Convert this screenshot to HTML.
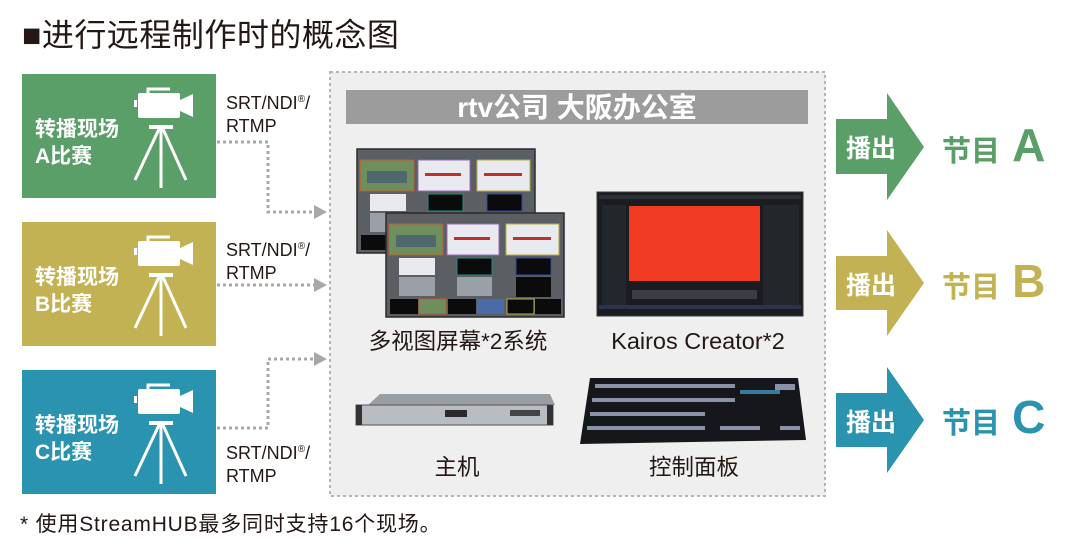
<!DOCTYPE html>
<html><head><meta charset="utf-8"><style>
html,body{margin:0;padding:0;background:#fff;}
body{width:1080px;height:551px;overflow:hidden;position:relative;font-family:"Liberation Sans","Noto Sans CJK SC",sans-serif;}
</style></head><body>
<svg width="1080" height="551" viewBox="0 0 1080 551" xmlns="http://www.w3.org/2000/svg" style="position:absolute;left:0;top:0">
<defs>
<g id="cam" fill="#fff">
  <rect x="138" y="93" width="42" height="25" rx="2"/>
  <polygon points="180,100 193,94 193,117 180,111"/>
  <rect x="134" y="100" width="3" height="7"/>
  <path d="M148 93 V89 H170" stroke="#fff" stroke-width="3" fill="none"/>
  <rect x="149" y="125" width="24" height="4"/>
  <path d="M161 128 V188 M159 129 L135 180 M163 129 L186 180" stroke="#fff" stroke-width="3" fill="none"/>
</g>
<g id="mv">
  <rect x="0" y="0" width="178" height="104" fill="#5b5e63" stroke="#2b2b2b" stroke-width="1.5"/>
  <rect x="3" y="11" width="54" height="31" fill="#6d8f5e" stroke="#c25a30"/>
  <rect x="10" y="22" width="40" height="12" fill="#3a4f7a" opacity=".6"/>
  <rect x="61" y="11" width="52" height="31" fill="#e8eaf0" stroke="#9a6bb0"/>
  <rect x="68" y="24" width="36" height="3" fill="#c0302a"/>
  <rect x="120" y="11" width="53" height="31" fill="#e8eaf0" stroke="#b6b040"/>
  <rect x="127" y="24" width="38" height="3" fill="#c0302a"/>
  <rect x="13" y="45" width="36" height="17" fill="#e8eaf0"/>
  <rect x="71" y="45" width="35" height="17" fill="#0b0b0b" stroke="#2a8a80"/>
  <rect x="130" y="45" width="35" height="17" fill="#0b0b0b" stroke="#304aa0"/>
  <rect x="13" y="64" width="36" height="19" fill="#9aa0a8"/>
  <rect x="71" y="64" width="35" height="19" fill="#9aa0a8"/>
  <rect x="130" y="64" width="35" height="20" fill="#0b0b0b"/>
  <rect x="4" y="86" width="28" height="15" fill="#0b0b0b"/>
  <rect x="33" y="86" width="27" height="15" fill="#6d8f5e" stroke="#c25a30"/>
  <rect x="62" y="86" width="28" height="15" fill="#0b0b0b"/>
  <rect x="91" y="86" width="27" height="15" fill="#4a6aa8"/>
  <rect x="121" y="86" width="27" height="15" fill="#0b0b0b" stroke="#b6b040"/>
  <rect x="149" y="86" width="26" height="15" fill="#0b0b0b"/>
</g>
</defs>

<!-- title -->
<text x="22" y="46" font-size="32" letter-spacing="0.5" fill="#231815" font-family="'Liberation Sans','Noto Sans CJK SC',sans-serif">■进行远程制作时的概念图</text>

<!-- center container -->
<rect x="330" y="72" width="495" height="424" fill="#efefef" stroke="#b5b5b5" stroke-width="2" stroke-dasharray="3,3"/>
<rect x="346" y="90" width="462" height="34" fill="#9c9c9c"/>
<text x="577" y="117" font-size="28" font-weight="bold" fill="#fff" text-anchor="middle" font-family="'Liberation Sans','Noto Sans CJK SC',sans-serif">rtv公司 大阪办公室</text>

<!-- multiview -->
<use href="#mv" transform="translate(357,149)"/>
<use href="#mv" transform="translate(386,213)"/>
<text x="458" y="349" font-size="22.5" fill="#231815" text-anchor="middle" font-family="'Liberation Sans','Noto Sans CJK SC',sans-serif">多视图屏幕*2系统</text>

<!-- kairos monitor -->
<rect x="597" y="192" width="206" height="124" fill="#1a1c20" stroke="#3a3a3a"/>
<rect x="599" y="195" width="202" height="4" fill="#2d3036"/>
<rect x="629" y="206" width="131" height="75" fill="#f03a22"/>
<rect x="602" y="205" width="24" height="100" fill="#23262b"/>
<rect x="763" y="205" width="36" height="100" fill="#23262b"/>
<rect x="632" y="290" width="125" height="9" fill="#3a3e44"/>
<rect x="599" y="305" width="202" height="4" fill="#2a3350"/>
<text x="698" y="349" font-size="23.5" fill="#231815" text-anchor="middle" font-family="'Liberation Sans','Noto Sans CJK SC',sans-serif">Kairos Creator*2</text>

<!-- server -->
<polygon points="368,405 380,394 550,394 555,405" fill="#9a9da2"/>
<rect x="356" y="405" width="197" height="20" fill="#b9bcc0" stroke="#555" stroke-width="1"/>
<rect x="356" y="405" width="6" height="20" fill="#333"/>
<rect x="547" y="405" width="6" height="20" fill="#333"/>
<rect x="445" y="410" width="22" height="7" fill="#2a2a2a"/>
<rect x="510" y="410" width="30" height="6" fill="#444"/>
<text x="457" y="475" font-size="22.5" fill="#231815" text-anchor="middle" font-family="'Liberation Sans','Noto Sans CJK SC',sans-serif">主机</text>

<!-- control panel -->
<polygon points="590,378 798,378 806,440 580,444" fill="#16171a"/>
<g fill="#8a92a8">
<rect x="595" y="384" width="110" height="4"/><rect x="592" y="398" width="113" height="4"/>
<rect x="590" y="412" width="115" height="4"/><rect x="587" y="426" width="118" height="4"/>
<rect x="705" y="384" width="30" height="4"/><rect x="705" y="398" width="30" height="4"/>
<rect x="720" y="426" width="40" height="4"/><rect x="775" y="384" width="20" height="6"/>
<rect x="780" y="426" width="20" height="4"/>
</g>
<rect x="740" y="390" width="40" height="4" fill="#3a7aa0"/>
<text x="694" y="475" font-size="22.5" fill="#231815" text-anchor="middle" font-family="'Liberation Sans','Noto Sans CJK SC',sans-serif">控制面板</text>

<!-- source boxes -->
<rect x="22" y="74" width="194" height="124" fill="#5a9e68"/>
<rect x="22" y="222" width="194" height="124" fill="#c3b253"/>
<rect x="22" y="370" width="194" height="124" fill="#2a93af"/>
<use href="#cam"/>
<use href="#cam" transform="translate(0,148)"/>
<use href="#cam" transform="translate(0,296)"/>
<g font-size="21" font-weight="bold" fill="#fff" font-family="'Liberation Sans','Noto Sans CJK SC',sans-serif">
<text x="35" y="136">转播现场</text><text x="35" y="163">A比赛</text>
<text x="35" y="284">转播现场</text><text x="35" y="311">B比赛</text>
<text x="35" y="432">转播现场</text><text x="35" y="459">C比赛</text>
</g>

<!-- protocol labels -->
<g font-size="18" fill="#231815" font-family="'Liberation Sans','Noto Sans CJK SC',sans-serif">
<text x="226" y="109">SRT/NDI<tspan font-size="10" dy="-7">®</tspan><tspan dy="7">/</tspan></text>
<text x="226" y="132">RTMP</text>
<text x="226" y="256">SRT/NDI<tspan font-size="10" dy="-7">®</tspan><tspan dy="7">/</tspan></text>
<text x="226" y="279">RTMP</text>
<text x="226" y="459">SRT/NDI<tspan font-size="10" dy="-7">®</tspan><tspan dy="7">/</tspan></text>
<text x="226" y="482">RTMP</text>
</g>

<!-- connectors -->
<g stroke="#a8a8a8" stroke-width="3" stroke-dasharray="3,3" fill="none">
<path d="M217 142 H268 V212 H316"/>
<path d="M217 285 H316"/>
<path d="M217 428 H268 V359 H316"/>
</g>
<g fill="#a8a8a8">
<polygon points="314,205 327,212 314,219"/>
<polygon points="314,278 327,285 314,292"/>
<polygon points="314,352 327,359 314,366"/>
</g>

<!-- output arrows -->
<polygon points="836,119 887,119 887,93 924,147 887,200 887,174 836,174" fill="#5a9e68"/>
<polygon points="836,256 887,256 887,230 924,283 887,336 887,310 836,310" fill="#c3b253"/>
<polygon points="836,393 887,393 887,367 924,420 887,473 887,447 836,447" fill="#2a93af"/>
<g font-size="25" font-weight="bold" fill="#fff" font-family="'Liberation Sans','Noto Sans CJK SC',sans-serif">
<text x="846" y="157">播出</text>
<text x="846" y="294">播出</text>
<text x="846" y="431">播出</text>
</g>
<g font-weight="bold" font-family="'Liberation Sans','Noto Sans CJK SC',sans-serif">
<text x="942" y="161" font-size="29" fill="#5a9e68">节目 <tspan font-size="46" dx="4">A</tspan></text>
<text x="942" y="297" font-size="29" fill="#c3b253">节目 <tspan font-size="46" dx="4">B</tspan></text>
<text x="942" y="433" font-size="29" fill="#2a93af">节目 <tspan font-size="46" dx="4">C</tspan></text>
</g>

<!-- footnote -->
<text x="20" y="531" font-size="21" letter-spacing="0.8" fill="#231815" font-family="'Liberation Sans','Noto Sans CJK SC',sans-serif">*  使用StreamHUB最多同时支持16个现场。</text>
</svg>
</body></html>
